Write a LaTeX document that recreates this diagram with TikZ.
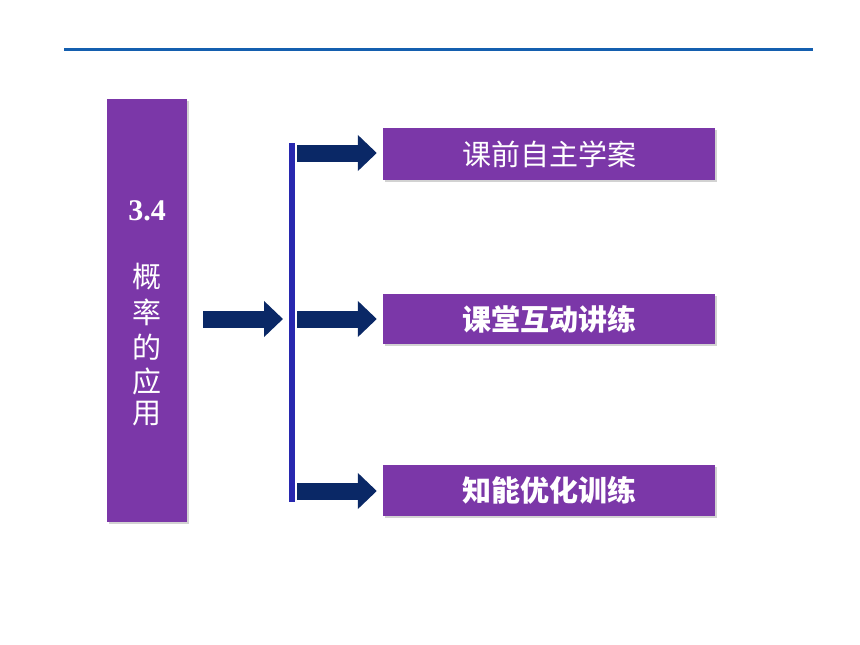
\documentclass[tikz,border=0pt]{standalone}
\usepackage{fontspec}
\setmainfont{Liberation Serif}
\newfontfamily\cjk{Noto Sans CJK SC}
\usetikzlibrary{arrows.meta,shadows,calc}
\definecolor{topline}{RGB}{20,95,175}
\definecolor{boxpurple}{RGB}{123,55,168}
\definecolor{barblue}{RGB}{40,40,175}
\definecolor{navy}{RGB}{10,40,102}
\tikzset{
  pbox/.style={fill=boxpurple, draw=none, inner sep=0pt, text=white,
    drop shadow={shadow xshift=1.5pt, shadow yshift=-2pt, opacity=0.35}},
  bigarrow/.style={draw=navy, line width=17pt, line cap=butt,
    -{Triangle[length=19pt,width=35pt]}},
  boxtext/.style={font=\cjk\fontsize{29}{32}\selectfont},
  boldtext/.style={font=\cjk\bfseries\fontsize{29}{32}\selectfont},
  sidechar/.style={text=white, inner sep=0pt, font=\cjk\fontsize{29}{30}\selectfont}
}
\begin{document}
\begin{tikzpicture}[x=1pt,y=-1pt]
\useasboundingbox (0,0) rectangle (860,645);
\fill[white] (0,0) rectangle (860,645);
% top rule
\coordinate (tl) at (64,49);
\coordinate (tr) at (813,49);
\draw[topline, line width=3pt] (tl) -- (tr);
% left box
\node[pbox, minimum width=80pt, minimum height=423pt] (left) at (147,310.5) {};
\node[text=white, font=\bfseries\fontsize{30}{32}\selectfont] (num) at (147,211) {3.4};
\node[sidechar] (c1) at (147,277) {概};
\node[sidechar] (c2) at (147,312) {率};
\node[sidechar] (c3) at (147,347) {的};
\node[sidechar] (c4) at (147,381) {应};
\node[sidechar] (c5) at (147,414) {用};
% right boxes
\node[pbox, minimum width=332pt, minimum height=52pt, boxtext] (b1) at (549,154) {课前自主学案};
\node[pbox, minimum width=332pt, minimum height=50pt, boldtext] (b2) at (549,319) {课堂互动讲练};
\node[pbox, minimum width=332pt, minimum height=51pt, boldtext] (b3) at (549,490.5) {知能优化训练};
% vertical bar
\coordinate (bartop) at (292,143);
\coordinate (barbot) at (292,502);
\draw[barblue, line width=6pt] (bartop) -- (barbot);
% arrows
\coordinate (ain) at (203,319);
\coordinate (aout) at (283,319);
\draw[bigarrow] (ain) -- (aout);
\coordinate (s1) at (297,153);
\coordinate (s2) at (297,319);
\coordinate (s3) at (297,491);
\draw[bigarrow, shorten >=6pt] (s1) -- (b1.west |- s1);
\draw[bigarrow, shorten >=6pt] (s2) -- (b2.west |- s2);
\draw[bigarrow, shorten >=6pt] (s3) -- (b3.west |- s3);
\end{tikzpicture}
\end{document}
